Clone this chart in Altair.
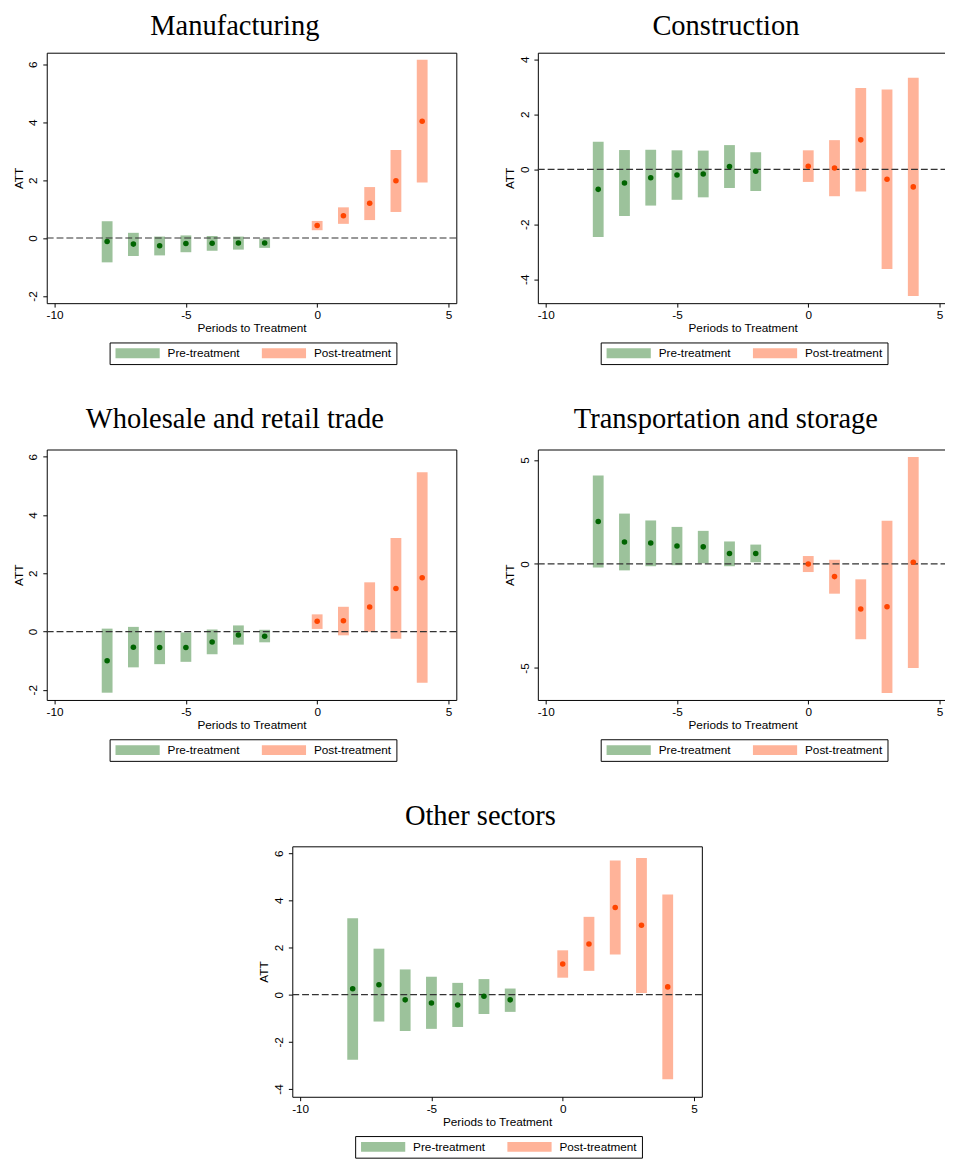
import altair as alt
import pandas as pd

periods = [-8, -7, -6, -5, -4, -3, -2, 0, 1, 2, 3, 4]

manu_att = [-0.12, -0.21, -0.27, -0.19, -0.18, -0.17, -0.17, 0.43, 0.77, 1.20, 1.98, 4.03]
manu_lo = [-0.84, -0.62, -0.60, -0.49, -0.44, -0.40, -0.34, 0.27, 0.49, 0.62, 0.90, 1.92]
manu_hi = [0.58, 0.18, 0.05, 0.09, 0.07, 0.05, -0.02, 0.59, 1.06, 1.76, 3.04, 6.16]

cons_att = [-0.73, -0.50, -0.31, -0.21, -0.17, 0.10, -0.07, 0.11, 0.05, 1.07, -0.36, -0.64]
cons_lo = [-2.46, -1.70, -1.32, -1.11, -1.02, -0.68, -0.79, -0.46, -0.98, -0.81, -3.63, -4.61]
cons_hi = [1.00, 0.70, 0.71, 0.69, 0.68, 0.88, 0.62, 0.69, 1.06, 2.96, 2.90, 3.33]

trade_att = [-1.00, -0.54, -0.55, -0.55, -0.36, -0.12, -0.16, 0.35, 0.37, 0.84, 1.48, 1.85]
trade_lo = [-2.10, -1.23, -1.12, -1.04, -0.78, -0.45, -0.37, 0.09, -0.13, -0.01, -0.25, -1.76]
trade_hi = [0.10, 0.16, 0.03, -0.03, 0.07, 0.21, 0.06, 0.59, 0.85, 1.69, 3.21, 5.47]

trans_att = [2.04, 1.05, 1.01, 0.86, 0.82, 0.50, 0.50, 0.00, -0.61, -2.17, -2.06, 0.08]
trans_lo = [-0.17, -0.31, -0.11, -0.06, 0.03, -0.11, 0.08, -0.39, -1.43, -3.62, -6.21, -5.00]
trans_hi = [4.25, 2.42, 2.09, 1.78, 1.59, 1.08, 0.93, 0.38, 0.20, -0.74, 2.08, 5.14]

other_att = [0.25, 0.42, -0.22, -0.35, -0.44, -0.07, -0.22, 1.30, 2.15, 3.70, 2.94, 0.33]
other_lo = [-2.76, -1.14, -1.54, -1.45, -1.37, -0.82, -0.73, 0.72, 1.01, 1.70, 0.07, -3.59]
other_hi = [3.24, 1.95, 1.07, 0.76, 0.50, 0.66, 0.26, 1.88, 3.30, 5.69, 5.79, 4.25]

groups = ["Pre-treatment", "Post-treatment"]
x_ticks = [-10, -5, 0, 5]

GREEN_BAR = "#9cc29b"
SALMON_BAR = "#ffb399"
GREEN_PT = "#006400"
ORANGE_PT = "#ff4500"

SANS = "Liberation Sans"
SERIF = "Liberation Serif"


def panel(title, att, lo, hi, ydom, yticks, toff=16):
    df = pd.DataFrame({
        "period": periods,
        "att": att,
        "lo": lo,
        "hi": hi,
        "group": [groups[0] if p < 0 else groups[1] for p in periods],
    })
    xscale = alt.Scale(domain=[-10.3, 5.3], nice=False, zero=False, padding=0)
    xaxis = alt.Axis(values=x_ticks, labelExpr="toString(datum.value)")
    yscale = alt.Scale(domain=ydom, nice=False, zero=False, padding=0)
    yaxis = alt.Axis(values=yticks, labelAngle=270, labelAlign="center",
                     labelBaseline="bottom", labelExpr="toString(datum.value)")
    base = alt.Chart(df)
    bars = base.mark_bar(size=11).encode(
        x=alt.X("period:Q", title="Periods to Treatment", scale=xscale, axis=xaxis),
        y=alt.Y("lo:Q", title="ATT", scale=yscale, axis=yaxis),
        y2="hi:Q",
        color=alt.Color("group:N",
                        scale=alt.Scale(domain=groups, range=[GREEN_BAR, SALMON_BAR]),
                        legend=alt.Legend(orient="none", legendX=64, legendY=295,
                                          direction="horizontal", title=None,
                                          symbolType="M-1,-1H8V1H-1Z",
                                          symbolSize=100, symbolStrokeWidth=0,
                                          symbolOpacity=1,
                                          labelFont=SANS, labelFontSize=12,
                                          labelColor="black",
                                          strokeColor="black", fillColor="white",
                                          padding=5, columnPadding=21, labelOffset=42)),
    )
    zero = base.transform_filter("datum.period == 0").mark_rule(
        strokeDash=[7, 3], color="#333333", strokeWidth=1.2
    ).encode(y=alt.datum(0))
    pts = base.mark_circle(size=32, opacity=1).encode(
        x=alt.X("period:Q", scale=xscale),
        y=alt.Y("att:Q"),
        color=alt.condition("datum.period < 0", alt.value(GREEN_PT), alt.value(ORANGE_PT)),
    )
    return alt.layer(bars, zero, pts).properties(
        width=417, height=255,
        title=alt.TitleParams(title, font=SERIF, fontSize=29, fontWeight="normal",
                              color="black", dx=-17, offset=toff),
    )


p1 = panel("Manufacturing", manu_att, manu_lo, manu_hi, [-2.25, 6.4], [-2, 0, 2, 4, 6], toff=12)
p2 = panel("Construction", cons_att, cons_lo, cons_hi, [-4.87, 4.24], [-4, -2, 0, 2, 4], toff=12)
p3 = panel("Wholesale and retail trade", trade_att, trade_lo, trade_hi, [-2.35, 6.25], [-2, 0, 2, 4, 6])
p4 = panel("Transportation and storage", trans_att, trans_lo, trans_hi, [-6.54, 5.5], [-5, 0, 5])
p5 = panel("Other sectors", other_att, other_lo, other_hi, [-4.33, 6.29], [-4, -2, 0, 2, 4, 6])

row1 = alt.hconcat(p1, p2, spacing=45).resolve_scale(color="independent").resolve_legend(color="independent")
row2 = alt.hconcat(p3, p4, spacing=45).resolve_scale(color="independent").resolve_legend(color="independent")

chart = alt.vconcat(row1, row2, p5, spacing=40, center=True).resolve_scale(
    color="independent").resolve_legend(color="independent").properties(
    background="white", padding={"left": 3, "top": -7, "right": -4, "bottom": 0}
).configure_view(stroke="black", strokeWidth=1).configure_axis(
    grid=False, domain=False, tickColor="black", tickSize=4,
    labelFont=SANS, labelFontSize=12, labelColor="black", labelPadding=3,
    titleFont=SANS, titleFontSize=12, titleFontWeight="normal", titleColor="black",
    titlePadding=2)

chart.save("out.html", embed_options={"renderer": "svg", "actions": False})
